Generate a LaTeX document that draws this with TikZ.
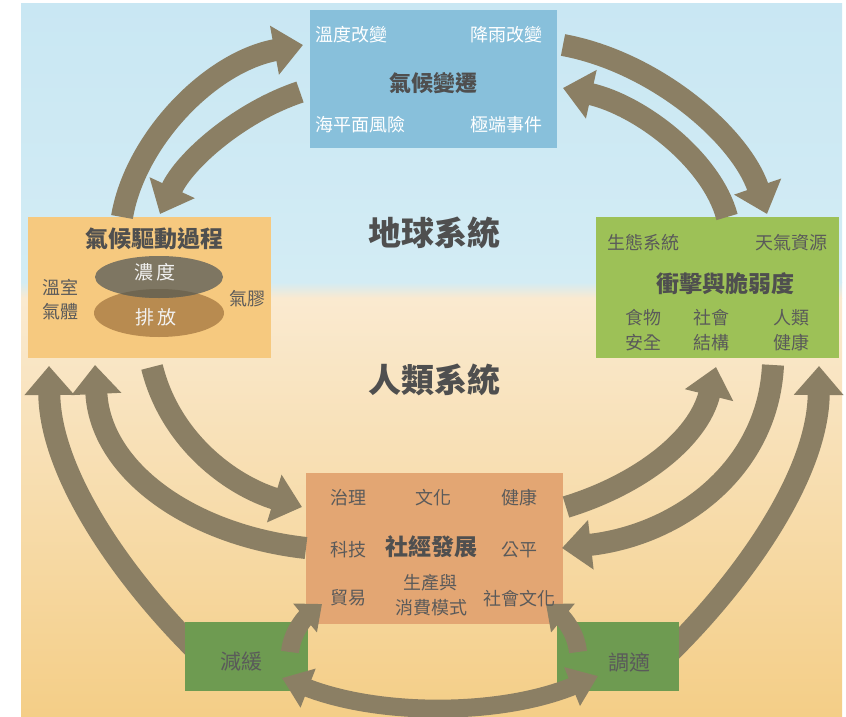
\documentclass[tikz,border=0pt]{standalone}
\usepackage{fontspec}
\setmainfont{Noto Sans CJK TC}
\usetikzlibrary{arrows.meta}
\definecolor{arrowc}{HTML}{8B7F64}
\definecolor{bgA}{HTML}{C9E7F3}
\definecolor{bgB}{HTML}{D3ECF4}
\definecolor{bgC}{HTML}{FAEAD0}
\definecolor{bgD}{HTML}{F4CE87}
\definecolor{topc}{HTML}{88C0DB}
\definecolor{leftc}{HTML}{F6C97F}
\definecolor{rightc}{HTML}{9DC157}
\definecolor{sesc}{HTML}{E3A673}
\definecolor{greenc}{HTML}{6E9B51}
\definecolor{elup}{HTML}{7E7662}
\definecolor{eldn}{HTML}{B88B50}
\definecolor{elov}{HTML}{6F6651}
\definecolor{txt}{HTML}{5A5A5A}
\definecolor{ttxt}{HTML}{4F4F4F}
\tikzset{
  box/.style={inner sep=0pt, outer sep=0pt, draw=none},
  lbl/.style={text=txt, font=\fontsize{18}{20}\selectfont, inner sep=0pt},
  wlbl/.style={lbl, text=white},
  ttl/.style={text=ttxt, font=\fontsize{23}{25}\selectfont\bfseries, inner sep=0pt},
  bigttl/.style={text=ttxt, font=\fontsize{33}{35}\selectfont\bfseries, inner sep=0pt},
  arr/.style={draw=arrowc, line width=22pt, -{Triangle[width=48pt,length=29pt]}},
  sarr/.style={draw=arrowc, line width=18pt, -{Triangle[width=36pt,length=22pt]}},
  darr/.style={draw=arrowc, line width=18pt, {Triangle[width=40pt,length=28pt]}-{Triangle[width=40pt,length=28pt]}},
}
\begin{document}
\begin{tikzpicture}[x=1pt,y=-1pt]
\useasboundingbox (0,0) rectangle (846,717);
% background
\fill[white] (0,0) rectangle (846,717);
\fill[top color=bgA, bottom color=bgB] (21,4) rectangle (842,282);
\fill[top color=bgB, bottom color=bgC] (21,282) rectangle (842,298);
\fill[top color=bgC, bottom color=bgD] (21,298) rectangle (842,716);

% arrow end coordinates
\coordinate (a1s) at (122,217);  \coordinate (a1e) at (303,45);
\coordinate (a2s) at (300,92);   \coordinate (a2e) at (160,214);
\coordinate (a3s) at (563,45);   \coordinate (a3e) at (767,214);
\coordinate (a4s) at (727,217);  \coordinate (a4e) at (563,88);
\coordinate (a5s) at (198,652);  \coordinate (a5e) at (49,366);
\coordinate (a6s) at (306,548);  \coordinate (a6e) at (95,365);
\coordinate (a7s) at (152,367);  \coordinate (a7e) at (302,507);
\coordinate (b5s) at (670,652);  \coordinate (b5e) at (819,366);
\coordinate (b6s) at (773,365);  \coordinate (b6e) at (562,548);
\coordinate (b7s) at (566,507);  \coordinate (b7e) at (716,367);
\coordinate (s1s) at (290,652);  \coordinate (s1e) at (322,604);
\coordinate (s2s) at (578,652);  \coordinate (s2e) at (546,604);
\coordinate (d1) at (282,678);   \coordinate (d2) at (598,676);

% outer arrows going under the small boxes
\draw[arr] (a5s) .. controls (125,580) and (50,475) .. (a5e);
\draw[arr] (b5s) .. controls (743,580) and (818,475) .. (b5e);

% boxes
\node[box, fill=topc, minimum width=247pt, minimum height=138pt] (cc) at (433.5,79) {};
\node[box, fill=leftc, minimum width=243pt, minimum height=141pt] (drv) at (149.5,287.5) {};
\node[box, fill=rightc, minimum width=243pt, minimum height=141pt] (imp) at (717.5,287.5) {};
\node[box, fill=sesc, minimum width=257pt, minimum height=151pt] (ses) at (434.5,548.5) {};
\node[box, fill=greenc, minimum width=123pt, minimum height=69pt] (mit) at (246.5,656.5) {};
\node[box, fill=greenc, minimum width=122pt, minimum height=69pt] (ada) at (618,656.5) {};

% ellipses
\fill[eldn] (159,313) ellipse [x radius=65pt, y radius=24pt];
\fill[elup] (159,277) ellipse [x radius=64pt, y radius=21pt];
\begin{scope}
  \clip (159,277) ellipse [x radius=64pt, y radius=21pt];
  \fill[elov] (159,313) ellipse [x radius=65pt, y radius=24pt];
\end{scope}

% arrows
\draw[arr] (a1s) .. controls (135,140) and (210,62) .. (a1e);
\draw[arr] (a2s) .. controls (240,112) and (185,160) .. (a2e);
\draw[arr] (a3s) .. controls (655,62) and (740,135) .. (a3e);
\draw[arr] (a4s) .. controls (712,160) and (640,105) .. (a4e);
\draw[arr] (a6s) .. controls (190,535) and (100,470) .. (a6e);
\draw[arr] (a7s) .. controls (170,440) and (230,485) .. (a7e);
\draw[arr] (b6s) .. controls (768,470) and (678,535) .. (b6e);
\draw[arr] (b7s) .. controls (638,485) and (698,440) .. (b7e);
\draw[sarr] (s1s) .. controls (292,632) and (305,618) .. (s1e);
\draw[sarr] (s2s) .. controls (576,632) and (563,618) .. (s2e);
\draw[darr] (d1) .. controls (380,716) and (500,716) .. (d2);

% texts: climate change
\node[wlbl] (t1) at (351.5,35) {溫度改變};
\node[wlbl] (t2) at (506,35) {降雨改變};
\node[ttl, font=\fontsize{22}{24}\selectfont\bfseries] (t3) at (433,83) {氣候變遷};
\node[wlbl] (t4) at (360,125) {海平面風險};
\node[wlbl] (t5) at (506,125) {極端事件};
% drivers
\node[ttl] (l1) at (154,239) {氣候驅動過程};
\node[lbl, text=white!95!black, font=\fontsize{19}{21}\selectfont] (l2) at (155,272) {濃\,度};
\node[lbl, text=white!95!black, font=\fontsize{19}{21}\selectfont] (l3) at (156,317) {排\,放};
\node[lbl] (l4) at (60,287) {溫室};
\node[lbl] (l5) at (60,312) {氣體};
\node[lbl] (l6) at (247,299) {氣膠};
% impacts
\node[lbl] (r1) at (643,243) {生態系統};
\node[lbl] (r2) at (791,243) {天氣資源};
\node[ttl] (r3) at (725,284) {衝擊與脆弱度};
\node[lbl] (r4) at (643,318) {食物};
\node[lbl] (r5) at (643,343) {安全};
\node[lbl] (r6) at (711,318) {社會};
\node[lbl] (r7) at (711,343) {結構};
\node[lbl] (r8) at (791,318) {人類};
\node[lbl] (r9) at (791,343) {健康};
% socio-economic
\node[lbl] (e1) at (348,498) {治理};
\node[lbl] (e2) at (433,498) {文化};
\node[lbl] (e3) at (519,498) {健康};
\node[lbl] (e4) at (348,550) {科技};
\node[ttl] (e5) at (431.5,547) {社經發展};
\node[lbl] (e6) at (519,550) {公平};
\node[lbl] (e7) at (348,598) {貿易};
\node[lbl] (e8) at (430,583) {生產與};
\node[lbl] (e9) at (431,608) {消費模式};
\node[lbl] (e10) at (519,599) {社會文化};
% mitigation / adaptation
\node[lbl, font=\fontsize{21}{23}\selectfont] (m1) at (241.5,662) {減緩};
\node[lbl, font=\fontsize{21}{23}\selectfont] (m2) at (629.5,662) {調適};
% system labels
\node[bigttl] (g1) at (434,233) {地球系統};
\node[bigttl] (g2) at (434,380) {人類系統};
\end{tikzpicture}
\end{document}
